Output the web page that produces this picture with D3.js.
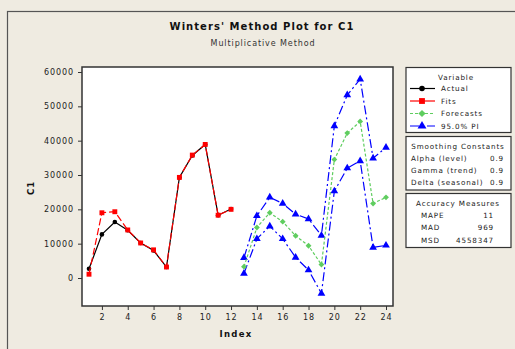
<!DOCTYPE html>
<html>
<head>
  <style>
    body { margin: 0; padding: 0; background: #efebe1; }
    text { font-family: "DejaVu Sans", sans-serif; fill: #111; }
  </style>
</head>
<body>
  <div id="chart"></div>
  <script src="https://d3js.org/d3.v7.min.js"></script>
  <script>
    // data
    var index = d3.range(1, 25);
    var actual = [2700, 12700, 16300, 13900, 10200, 8000, 3200, 29300, 35700, 38900, 18300, 20100];
    var fits = [1100, 19000, 19300, 14000, 10200, 8200, 3200, 29300, 35800, 38900, 18300, 20000];
    var forecasts = [3300, 14700, 19000, 16400, 12300, 9400, 3900, 34500, 42200, 45600, 21700, 23500];
    var upperPI = [5900, 18100, 23500, 21700, 18600, 17200, 12400, 44300, 53300, 57900, 34900, 38000];
    var lowerPI = [1300, 11400, 15100, 11400, 6000, 2300, -4500, 25300, 32000, 34100, 8900, 9500];
    var yTicks = [0, 10000, 20000, 30000, 40000, 50000, 60000];
    var xTicks = [2, 4, 6, 8, 10, 12, 14, 16, 18, 20, 22, 24];
    var legendNames = ['Actual', 'Fits', 'Forecasts', '95.0% PI'];
    var smoothing = [['Alpha (level)', '0.9'], ['Gamma (trend)', '0.9'], ['Delta (seasonal)', '0.9']];
    var accuracy = [['MAPE', '11'], ['MAD', '969'], ['MSD', '4558347']];

    var width = 515, height = 349;
    var svg = d3.select('#chart').append('svg').attr('width', width).attr('height', height);

    // outer frame
    svg.append('rect').attr('x', 7.5).attr('y', 11.5).attr('width', 520).attr('height', 360)
      .style('fill', '#efebe1').style('stroke', '#555').style('stroke-width', 1.2);

    var plot = {left: 82, top: 67, right: 393, bottom: 306};
    var x = d3.scaleLinear().domain([1, 24]).range([89, 386]);
    var y = d3.scaleLinear().domain([0, 60000]).range([278, 72]);

    svg.append('rect').attr('x', plot.left).attr('y', plot.top)
      .attr('width', plot.right - plot.left).attr('height', plot.bottom - plot.top)
      .style('fill', 'white').style('stroke', '#333').style('stroke-width', 1.5);

    // axes
    var yAxis = svg.append('g').attr('transform', 'translate(' + plot.left + ',0)')
      .call(d3.axisLeft(y).tickValues(yTicks).tickSize(4).tickPadding(4).tickFormat(d3.format('d')));
    var xAxis = svg.append('g').attr('transform', 'translate(0,' + plot.bottom + ')')
      .call(d3.axisBottom(x).tickValues(xTicks).tickSize(4).tickPadding(4));
    [yAxis, xAxis].forEach(function(a) {
      a.select('.domain').remove();
      a.selectAll('line').style('stroke', '#333');
      a.selectAll('text').style('font-family', '"DejaVu Sans", sans-serif')
        .style('font-size', '8px').style('letter-spacing', '0.9px').style('fill', '#222');
    });

    // titles
    svg.append('text').attr('x', 262).attr('y', 30).attr('text-anchor', 'middle')
      .style('font-size', '10px').style('font-weight', 'bold').style('letter-spacing', '1.05px')
      .text("Winters' Method Plot for C1");
    svg.append('text').attr('x', 263).attr('y', 46).attr('text-anchor', 'middle')
      .style('font-size', '8px').style('letter-spacing', '0.9px').style('fill', '#333')
      .text('Multiplicative Method');
    svg.append('text').attr('x', 236).attr('y', 337).attr('text-anchor', 'middle')
      .style('font-size', '8.5px').style('font-weight', 'bold').style('letter-spacing', '1.3px')
      .text('Index');
    svg.append('text').attr('transform', 'translate(34,188) rotate(-90)').attr('text-anchor', 'middle')
      .style('font-size', '8.5px').style('font-weight', 'bold').style('letter-spacing', '1px')
      .text('C1');

    var line = d3.line().x(function(d) { return x(d[0]); }).y(function(d) { return y(d[1]); });
    function pairs(vals, start) {
      return vals.map(function(v, i) { return [index[start + i], v]; });
    }

    var symDiamond = d3.symbol().type(d3.symbolSquare).size(17);
    var symTri = d3.symbol().type(d3.symbolTriangle).size(26);
    var symSquare = d3.symbol().type(d3.symbolSquare).size(24);

    var series = [
      {data: pairs(actual, 0), color: 'black', dash: null, sym: 'circle'},
      {data: pairs(fits, 0), color: '#ff0000', dash: '7,3', sym: symSquare},
      {data: pairs(upperPI, 12), color: '#0000ff', dash: '9,3,2,3', sym: symTri},
      {data: pairs(lowerPI, 12), color: '#0000ff', dash: '9,3,2,3', sym: symTri},
      {data: pairs(forecasts, 12), color: '#5fcd5f', dash: '3,2', sym: symDiamond, rot: 45}
    ];

    series.forEach(function(s) {
      svg.append('path').datum(s.data).attr('d', line)
        .style('fill', 'none').style('stroke', s.color).style('stroke-width', 1.2)
        .style('stroke-dasharray', s.dash);
      var g = svg.append('g');
      if (s.sym === 'circle') {
        g.selectAll('circle').data(s.data).enter().append('circle')
          .attr('cx', function(d) { return x(d[0]); }).attr('cy', function(d) { return y(d[1]); })
          .attr('r', 2.3).style('fill', s.color);
      } else {
        g.selectAll('path').data(s.data).enter().append('path')
          .attr('d', s.sym)
          .attr('transform', function(d) {
            return 'translate(' + x(d[0]) + ',' + y(d[1]) + ') rotate(' + (s.rot || 0) + ')';
          })
          .style('fill', s.color);
      }
    });

    // legend boxes
    function box(y0, y1) {
      svg.append('rect').attr('x', 406).attr('y', y0).attr('width', 105).attr('height', y1 - y0)
        .style('fill', 'white').style('stroke', '#333').style('stroke-width', 1.2);
    }
    box(67.5, 132.5);
    box(136.5, 190);
    box(193.5, 247.5);

    function small(t, xx, yy, anchor) {
      return svg.append('text').attr('x', xx).attr('y', yy).attr('text-anchor', anchor || 'start')
        .style('font-size', '7.2px').style('letter-spacing', '0.85px').style('fill', '#222').text(t);
    }

    small('Variable', 456, 79.5, 'middle');
    var legStyles = [
      {color: 'black', dash: null, sym: 'circle'},
      {color: '#ff0000', dash: null, sym: d3.symbol().type(d3.symbolSquare).size(34)},
      {color: '#5fcd5f', dash: '3,2', sym: d3.symbol().type(d3.symbolSquare).size(26), rot: 45},
      {color: '#0000ff', dash: '9,3,2,3', sym: d3.symbol().type(d3.symbolTriangle).size(34)}
    ];
    legendNames.forEach(function(n, i) {
      var ly = 88.5 + i * 12.5;
      var s = legStyles[i];
      svg.append('line').attr('x1', 410).attr('x2', 435).attr('y1', ly).attr('y2', ly)
        .style('stroke', s.color).style('stroke-width', 1.2).style('stroke-dasharray', s.dash);
      if (s.sym === 'circle') {
        svg.append('circle').attr('cx', 422).attr('cy', ly).attr('r', 2.8).style('fill', s.color);
      } else {
        svg.append('path').attr('d', s.sym)
          .attr('transform', 'translate(422,' + ly + ') rotate(' + (s.rot || 0) + ')').style('fill', s.color);
      }
      small(n, 441, ly + 2.5);
    });

    small('Smoothing Constants', 458, 148.5, 'middle');
    smoothing.forEach(function(r, i) {
      var ly = 160.5 + i * 12.3;
      small(r[0], 411, ly);
      small(r[1], 504, ly, 'end');
    });

    small('Accuracy Measures', 458, 205.5, 'middle');
    accuracy.forEach(function(r, i) {
      var ly = 217.8 + i * 12.5;
      small(r[0], 421, ly);
      small(r[1], 494, ly, 'end');
    });
  </script>
</body>
</html>
